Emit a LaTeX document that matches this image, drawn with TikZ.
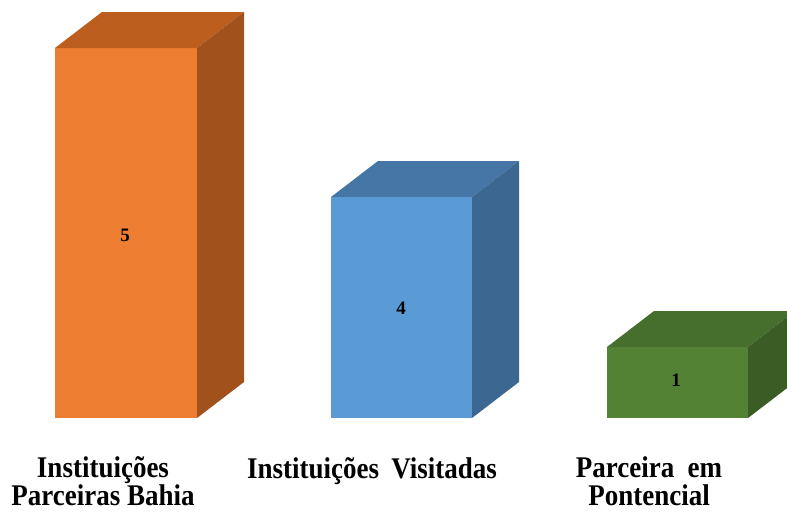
\documentclass[tikz,border=0pt]{standalone}
\usepackage{fontspec}
\setmainfont{Liberation Serif}
\definecolor{orF}{HTML}{ED7D31}
\definecolor{orT}{HTML}{BC5E1E}
\definecolor{orS}{HTML}{A1521C}
\definecolor{blF}{HTML}{5B9BD5}
\definecolor{blT}{HTML}{4676A6}
\definecolor{blS}{HTML}{3C6791}
\definecolor{grF}{HTML}{548235}
\definecolor{grT}{HTML}{466E2C}
\definecolor{grS}{HTML}{3B5D25}
\newcommand\mybox[6]{%
  \fill[#4] (#1,#3) rectangle (#2,418);
  \fill[#5] (#1,#3) -- ++(47,-36) -- ($(#2,#3)+(47,-36)$) -- (#2,#3) -- cycle;
  \fill[#6] (#2,#3) -- ++(47,-36) -- (#2+47,382) -- (#2,418) -- cycle;
}
\usetikzlibrary{calc}
\tikzset{
  val/.style={font=\fontsize{19}{19}\selectfont\bfseries},
  cat/.style={font=\fontsize{30}{28}\selectfont\bfseries, align=center, xscale=0.9, inner sep=0pt, anchor=base}
}
\begin{document}
\begin{tikzpicture}[x=1pt,y=-1pt]
\useasboundingbox (0,0) rectangle (787,512);
\fill[white] (0,0) rectangle (787,512);
\begin{scope}
\clip (0,0) rectangle (787,512);
\mybox{55}{197}{48}{orF}{orT}{orS}
\mybox{331}{472}{197}{blF}{blT}{blS}
\mybox{607}{748}{347}{grF}{grT}{grS}
\end{scope}
\node[val] (v5) at (125,235) {5};
\node[val] (v4) at (401,308) {4};
\node[val] (v1) at (676,380) {1};
\node[cat] (c1) at (103,505) {Instituições\\Parceiras Bahia};
\node[cat] (c2) at (372,478) {Instituições\hspace{0.45em}Visitadas};
\node[cat] (c3) at (649,505) {Parceira\ \ em\\Pontencial};
\end{tikzpicture}
\end{document}
